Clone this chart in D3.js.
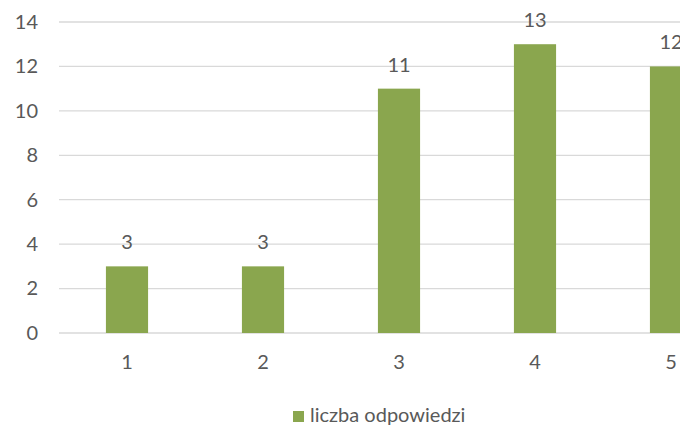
<!DOCTYPE html>
<html><head><meta charset="utf-8">
<script src="https://cdn.jsdelivr.net/npm/d3@7"></script>
<style>body{margin:0;background:#fff;overflow:hidden}svg{display:block}</style>
</head><body>
<svg id="c" width="680" height="430"></svg>
<script>
const categories = ["1","2","3","4","5"];
const values = [3,3,11,13,12];
const yTicks = [0,2,4,6,8,10,12,14];
const seriesName = "liczba odpowiedzi";

const svg = d3.select("#c");
const font = "Lato, 'Open Sans', sans-serif";
const fs = "20px";
const textColor = "#595959";
const barColor = "#8aa64e";

const x = d3.scaleBand().domain(categories).range([59, 739]).padding(0);
const y = d3.scaleLinear().domain([0,14]).range([333, 22]);
const barW = x.bandwidth()*0.31;

// gridlines
svg.append("g").selectAll("line").data(yTicks).join("line")
  .attr("x1",59).attr("x2",680)
  .attr("y1",d=>y(d)).attr("y2",d=>y(d))
  .attr("stroke","#d9d9d9").attr("stroke-width",1.3);

// y axis labels
const yAxis = d3.axisLeft(y).tickValues(yTicks).tickSize(0).tickPadding(0);
const yg = svg.append("g").attr("transform","translate(38,0)").call(yAxis);
yg.select(".domain").remove();
yg.selectAll("text").attr("fill",textColor).style("font-family",font).style("font-size",fs);

// x axis labels
const xAxis = d3.axisBottom(x).tickSize(0).tickPadding(0);
const xg = svg.append("g").attr("transform","translate(0,355)").call(xAxis);
xg.select(".domain").remove();
xg.selectAll("text").attr("fill",textColor).style("font-family",font).style("font-size",fs);

// bars
svg.append("g").selectAll("rect").data(values).join("rect")
  .attr("x",(d,i)=>x(categories[i])+x.bandwidth()/2-barW/2)
  .attr("width",barW)
  .attr("y",d=>y(d))
  .attr("height",d=>y(0)-y(d))
  .attr("fill",barColor);

// value labels
svg.append("g").selectAll("text").data(values).join("text")
  .attr("x",(d,i)=>x(categories[i])+x.bandwidth()/2)
  .attr("y",d=>y(d)-17)
  .attr("text-anchor","middle")
  .attr("fill",textColor)
  .style("font-family",font).style("font-size",fs)
  .text(d=>d);

// legend
const lg = svg.append("g").attr("transform","translate(293,411)");
lg.append("rect").attr("width",11).attr("height",11).attr("fill",barColor);
lg.append("text").attr("x",17).attr("y",11)
  .attr("fill",textColor).style("font-family",font).style("font-size",fs)
  .text(seriesName);
</script>
</body></html>
